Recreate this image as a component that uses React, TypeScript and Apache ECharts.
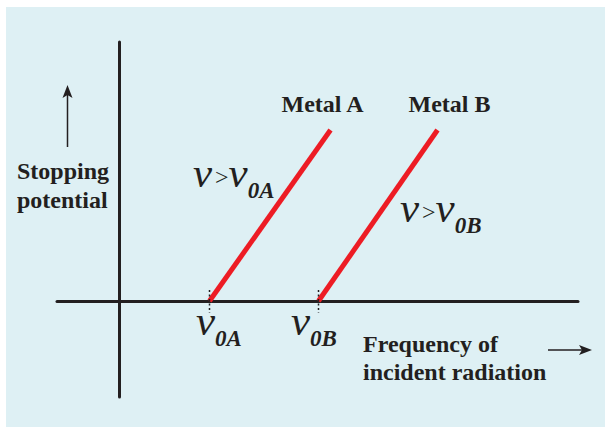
import React, { useEffect, useRef } from "react";
import * as echarts from "echarts";

// Frequency (arbitrary units, origin at the stopping-potential axis)
const metals = ["Metal A", "Metal B"];
const thresholdFreq = [90, 199]; // ν0A, ν0B
const lineEndFreq = [211, 318];
const lineEndPotential = [171, 171];
const xRange = [-62.5, 458.5];
const yRange = [-96, 259];

const INK = "#231f20";
const RED = "#ed1c24";
const SERIF = "'Liberation Serif', 'Times New Roman', serif";

export default function App() {
  const ref = useRef<HTMLDivElement>(null);
  useEffect(() => {
    if (!ref.current) return;
    const chart = echarts.init(ref.current, undefined, { renderer: "svg" });

    const metalSeries = metals.map((name, i) => ({
      name,
      type: "line",
      data: [
        [thresholdFreq[i], 0],
        [lineEndFreq[i], lineEndPotential[i]],
      ],
      symbol: "none",
      lineStyle: { color: RED, width: 5, cap: "butt" },
      z: 3,
    }));
    const tickSeries = thresholdFreq.map((f, i) => ({
      name: "threshold" + i,
      type: "line",
      data: [
        [f, 11],
        [f, -12],
      ],
      symbol: "none",
      lineStyle: { color: INK, width: 1.5, type: [2, 2.5] },
      z: 4,
    }));

    const rich = {
      nu: { fontFamily: SERIF, fontStyle: "italic", fontSize: 43, lineHeight: 43, verticalAlign: "top", color: INK },
      gt: { fontFamily: SERIF, fontSize: 24, lineHeight: 43, verticalAlign: "middle", color: INK },
      gap: { fontFamily: SERIF, fontSize: 10, lineHeight: 10, verticalAlign: "middle", width: 3, color: INK },
      sub: {
        fontFamily: SERIF,
        fontStyle: "italic",
        fontWeight: "bold",
        fontSize: 23,
        lineHeight: 51,
        verticalAlign: "bottom",
        color: INK,
      },
    };
    const boldStyle = { fontFamily: SERIF, fontWeight: "bold", fontSize: 24, fill: INK };

    const txt = (x: number, y: number, text: string, style: any, align = "left", va = "middle") => ({
      type: "text",
      x,
      y,
      z: 10,
      style: { text, align, verticalAlign: va, ...style },
    });
    const richTxt = (x: number, y: number, text: string) => ({
      type: "text",
      x,
      y,
      z: 10,
      style: { text, align: "left", verticalAlign: "top", rich, fill: INK },
    });

    chart.setOption({
      animation: false,
      backgroundColor: "#ffffff",
      grid: { left: 57, right: 605 - 578, top: 42, bottom: 427 - 397 },
      xAxis: {
        type: "value",
        min: xRange[0],
        max: xRange[1],
        axisLine: { show: true, onZero: true, lineStyle: { color: INK, width: 3 } },
        axisTick: { show: false },
        axisLabel: { show: false },
        splitLine: { show: false },
      },
      yAxis: {
        type: "value",
        min: yRange[0],
        max: yRange[1],
        axisLine: { show: true, onZero: true, lineStyle: { color: INK, width: 3 } },
        axisTick: { show: false },
        axisLabel: { show: false },
        splitLine: { show: false },
      },
      graphic: [
        {
          type: "rect",
          shape: { x: 6, y: 7, width: 599, height: 420 },
          style: { fill: "#def0f4" },
          z: -10,
          silent: true,
        },
        // up arrow
        { type: "line", shape: { x1: 67.5, y1: 147, x2: 67.5, y2: 95 }, style: { stroke: INK, lineWidth: 1.5 }, z: 10 },
        { type: "polygon", shape: { points: [[67.5, 85], [62.5, 98], [67.5, 95], [72.5, 98]] }, style: { fill: INK }, z: 10 },
        // right arrow
        { type: "line", shape: { x1: 548, y1: 350, x2: 582, y2: 350 }, style: { stroke: INK, lineWidth: 1.5 }, z: 10 },
        { type: "polygon", shape: { points: [[592, 350], [579, 345], [582, 350], [579, 355]] }, style: { fill: INK }, z: 10 },
        txt(17, 171, "Stopping", boldStyle),
        txt(17, 200, "potential", boldStyle),
        txt(363, 344, "Frequency of", boldStyle),
        txt(363, 372, "incident radiation", boldStyle),
        txt(322.5, 104, metals[0], boldStyle, "center"),
        txt(449.5, 104, metals[1], boldStyle, "center"),
        richTxt(193, 151, "{nu|ν}{gap| }{gt|>}{nu|ν}{sub|0A}"),
        richTxt(400, 186, "{nu|ν}{gap| }{gt|>}{nu|ν}{sub|0B}"),
        richTxt(196, 299, "{nu|ν}{sub|0A}"),
        richTxt(291, 299, "{nu|ν}{sub|0B}"),
      ],
      series: [...metalSeries, ...tickSeries],
    });
    return () => chart.dispose();
  }, []);
  return (
    <div
      ref={ref}
      style={{ position: "absolute", left: 0, top: 0, width: 605, height: 427 }}
    />
  );
}
